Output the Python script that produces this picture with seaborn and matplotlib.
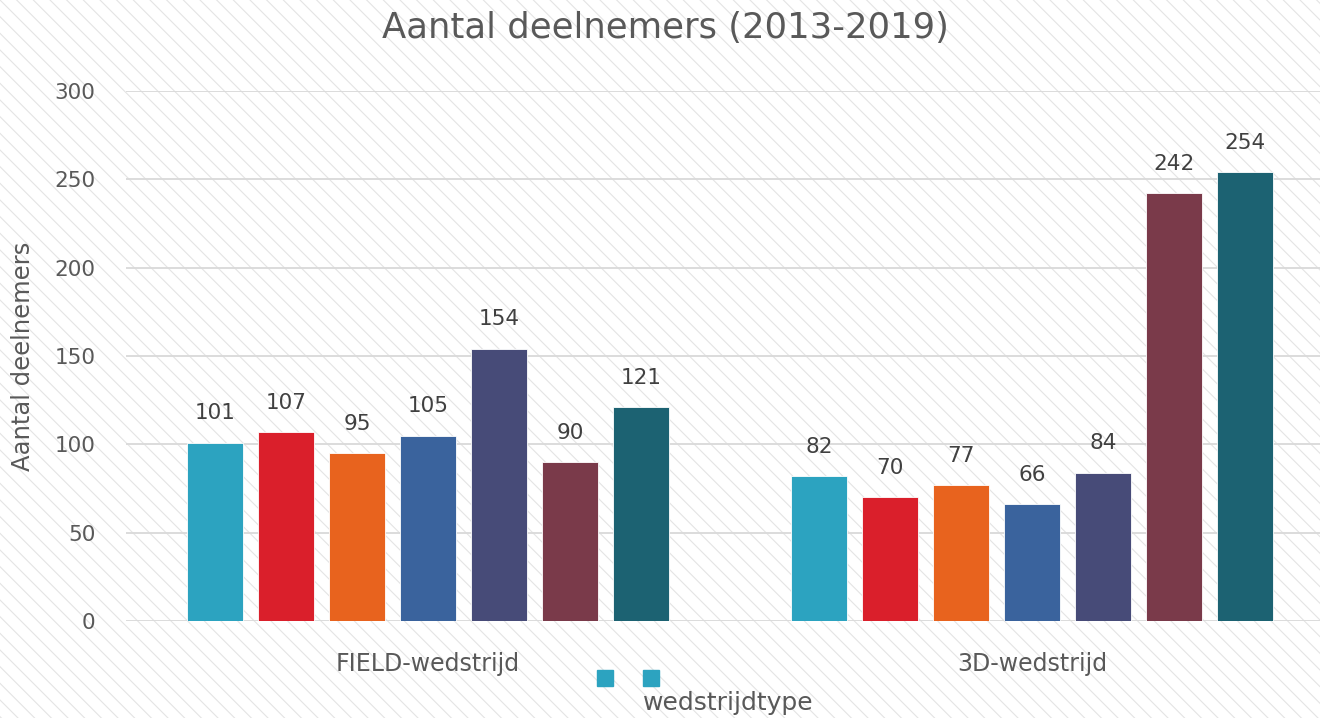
import matplotlib
matplotlib.use('Agg')
import matplotlib.pyplot as plt
import seaborn as sns
import pandas as pd
from matplotlib.patches import Rectangle
from matplotlib.lines import Line2D

categories = ['FIELD-wedstrijd', '3D-wedstrijd']
years = ['2013', '2014', '2015', '2016', '2017', '2018', '2019']
field_values = [101, 107, 95, 105, 154, 90, 121]
d3_values = [82, 70, 77, 66, 84, 242, 254]
colors = ['#2ca3c0', '#da1f2b', '#e8631e', '#3a639d', '#474b78', '#7a3a4a', '#1c6272']
yticks = [0, 50, 100, 150, 200, 250, 300]

TEXT = '#595959'


def main():
    rows = []
    for cat, vals in zip(categories, [field_values, d3_values]):
        for yr, v in zip(years, vals):
            rows.append({'wedstrijdtype': cat, 'jaar': yr, 'deelnemers': v})
    df = pd.DataFrame(rows)

    sns.set_style('white')
    plt.rcParams['font.family'] = ['DejaVu Sans']
    plt.rcParams['hatch.linewidth'] = 0.8

    fig = plt.figure(figsize=(13.2, 7.18), dpi=100)
    # striped background
    fig.patches.append(Rectangle((0, 0), 1, 1, transform=fig.transFigure,
                                 facecolor='white', edgecolor='#e4e4e4',
                                 hatch='\\\\', linewidth=0, zorder=-10))
    ax = fig.add_axes([126 / 1320, 97 / 718, 1208 / 1320, 530 / 718])
    ax.set_facecolor('none')

    sns.barplot(data=df, x='wedstrijdtype', y='deelnemers', hue='jaar',
                palette=colors, saturation=1, width=0.823, gap=0.218,
                errorbar=None, edgecolor='white', linewidth=0.6,
                legend=False, ax=ax, zorder=3)

    for c in ax.containers:
        ax.bar_label(c, padding=14, fontsize=15.5, color='#404040')

    ax.set_xlim(-0.5, 1.5)
    ax.set_ylim(0, 300)
    ax.set_yticks(yticks)
    ax.yaxis.grid(True, color='#d9d9d9', linewidth=1.3, zorder=0)
    ax.set_axisbelow(True)
    for s in ax.spines.values():
        s.set_visible(False)
    ax.tick_params(axis='y', length=0, pad=22, labelsize=15.5, labelcolor=TEXT)
    ax.tick_params(axis='x', length=0, pad=22, labelsize=17, labelcolor=TEXT)

    ax.set_ylabel('Aantal deelnemers', fontsize=17.5, color=TEXT, labelpad=14)
    ax.set_xlabel('')
    fig.text(728 / 1320, 1 - 703 / 718, 'wedstrijdtype', fontsize=18, color=TEXT,
             ha='center', va='center')
    fig.text(665 / 1320, 1 - 28 / 718, 'Aantal deelnemers (2013-2019)', fontsize=25.5,
             color=TEXT, ha='center', va='center')

    handles = [Line2D([], [], marker='s', linestyle='none', markersize=12,
                      color=colors[0]) for _ in range(2)]
    fig.legend(handles, ['', ''], ncol=2, frameon=False, loc='center',
               bbox_to_anchor=(628 / 1320, 1 - 679 / 718), handletextpad=0,
               columnspacing=2.3, handlelength=1)

    fig.savefig('out.png', dpi=100)


if __name__ == '__main__':
    main()
